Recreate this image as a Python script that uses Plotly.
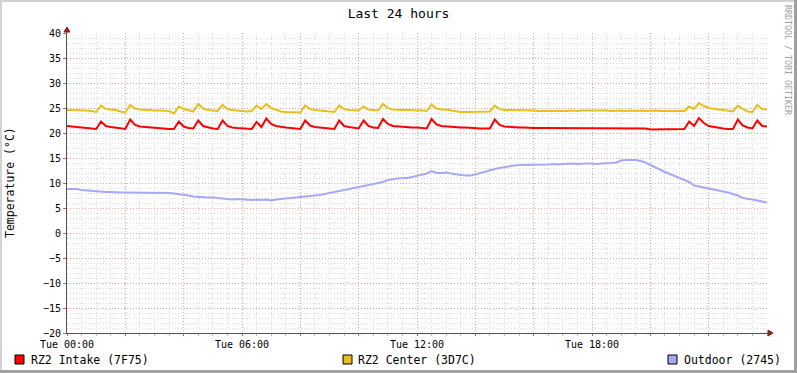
import plotly.graph_objects as go

# ---------------- data (10-minute samples over 24 hours) ----------------
STEP_MIN = 10

intake = [
    21.4, 21.3, 21.3, 21.1, 21.0, 20.9, 20.8, 22.3, 21.4, 21.2,
    21.1, 20.9, 20.8, 22.7, 21.6, 21.3, 21.2, 21.1, 21.1, 21.0,
    20.9, 20.8, 20.8, 22.3, 21.3, 21.0, 20.9, 22.5, 21.4, 21.1,
    20.9, 20.8, 22.5, 21.4, 21.1, 21.0, 20.9, 20.9, 20.8, 22.2,
    21.2, 22.9, 21.8, 21.4, 21.2, 21.1, 21.0, 20.9, 20.8, 22.5,
    21.5, 21.2, 21.1, 21.0, 20.9, 20.8, 22.5, 21.4, 21.2, 21.0,
    20.9, 22.5, 21.4, 21.1, 21.0, 22.8, 21.8, 21.4, 21.3, 21.2,
    21.2, 21.1, 21.1, 21.0, 20.9, 22.8, 21.7, 21.4, 21.3, 21.2,
    21.2, 21.1, 21.1, 21.0, 21.0, 20.9, 20.9, 20.9, 22.7, 21.6,
    21.3, 21.2, 21.1, 21.1, 21.1, 21.0, 21.0, 21.0, 21.0, 21.0,
    21.0, 21.0, 21.0, 21.0, 21.0, 21.0, 21.0, 20.9, 20.9, 20.9,
    20.9, 20.9, 20.9, 20.9, 21.0, 20.9, 20.9, 20.9, 20.9, 20.9,
    20.7, 20.7, 20.7, 20.7, 20.7, 20.7, 20.7, 20.8, 22.3, 21.4,
    23.0, 22.0, 21.4, 21.2, 21.1, 20.9, 20.8, 20.8, 22.7, 21.5,
    21.1, 20.9, 22.5, 21.4, 21.3,
]

center = [
    24.6, 24.6, 24.6, 24.5, 24.5, 24.4, 24.2, 25.5, 24.8, 24.7,
    24.6, 24.3, 24.1, 25.6, 24.9, 24.7, 24.6, 24.6, 24.5, 24.5,
    24.4, 24.4, 23.9, 25.3, 24.8, 24.5, 24.3, 25.8, 24.9, 24.6,
    24.5, 24.4, 25.6, 24.8, 24.6, 24.5, 24.4, 24.3, 24.4, 25.5,
    24.8, 25.8, 25.0, 24.6, 24.3, 24.2, 24.2, 24.2, 24.1, 25.5,
    24.8, 24.6, 24.5, 24.3, 24.2, 24.2, 25.5, 24.8, 24.6, 24.5,
    24.5, 25.3, 24.7, 24.6, 24.5, 25.8, 25.0, 24.7, 24.6, 24.6,
    24.6, 24.5, 24.5, 24.5, 24.4, 25.7, 24.9, 24.7, 24.7, 24.5,
    24.3, 24.2, 24.2, 24.2, 24.3, 24.2, 24.2, 24.3, 25.5, 24.8,
    24.6, 24.6, 24.6, 24.6, 24.6, 24.5, 24.5, 24.4, 24.4, 24.4,
    24.4, 24.3, 24.4, 24.4, 24.5, 24.4, 24.5, 24.5, 24.5, 24.6,
    24.5, 24.5, 24.4, 24.5, 24.5, 24.4, 24.5, 24.4, 24.5, 24.4,
    24.5, 24.5, 24.4, 24.4, 24.5, 24.4, 24.4, 24.4, 25.3, 24.8,
    26.0, 25.4, 25.0, 24.8, 24.7, 24.6, 24.4, 24.3, 25.5, 24.8,
    24.3, 24.2, 25.6, 24.8, 24.7,
]

outdoor = [
    8.8, 8.8, 8.8, 8.6, 8.5, 8.4, 8.3, 8.3, 8.2, 8.2,
    8.1, 8.1, 8.1, 8.1, 8.0, 8.1, 8.0, 8.0, 8.1, 8.0,
    8.0, 8.0, 7.9, 7.8, 7.6, 7.5, 7.3, 7.2, 7.1, 7.1,
    7.1, 7.0, 6.8, 6.8, 6.7, 6.8, 6.7, 6.7, 6.6, 6.7,
    6.6, 6.7, 6.5, 6.7, 6.8, 6.8, 6.9, 7.0, 7.1, 7.2,
    7.3, 7.4, 7.6, 7.8, 8.0, 8.1, 8.3, 8.6, 8.8, 9.0,
    9.2, 9.3, 9.5, 9.7, 9.9, 10.2, 10.6, 10.8, 10.9, 11.0,
    11.0, 11.2, 11.4, 11.6, 11.9, 12.4, 12.0, 12.0, 12.1, 11.9,
    11.7, 11.6, 11.5, 11.5, 11.7, 12.0, 12.3, 12.6, 12.8, 13.0,
    13.2, 13.3, 13.5, 13.6, 13.6, 13.7, 13.7, 13.6, 13.7, 13.7,
    13.8, 13.7, 13.8, 13.9, 13.9, 13.8, 13.9, 13.9, 13.9, 13.8,
    13.9, 13.9, 14.0, 14.1, 14.5, 14.6, 14.6, 14.6, 14.4, 14.1,
    13.6, 13.1, 12.7, 12.2, 11.8, 11.4, 11.0, 10.6, 10.2, 9.5,
    9.3, 9.1, 8.9, 8.8, 8.5, 8.3, 8.1, 7.8, 7.5, 7.0,
    6.9, 6.7, 6.5, 6.3, 6.1,
]

series_names = ["RZ2 Intake (7F75)", "RZ2 Center (3D7C)", "Outdoor (2745)"]
series_colors = ["#FF0000", "#E8BE1E", "#A8A8F6"]

x_tick_vals = [0, 2, 4, 6, 8, 10, 12, 14, 16, 18, 20, 22]
x_tick_text = ["Tue 00:00", "", "", "Tue 06:00", "", "", "Tue 12:00", "", "", "Tue 18:00", "", ""]
y_tick_vals = [-20, -15, -10, -5, 0, 5, 10, 15, 20, 25, 30, 35, 40]

title_text = "Last 24 hours"
y_title = "Temperature (°C)"
credit_text = "RRDTOOL / TOBI OETIKER"

# ---------------- figure ----------------
hours = [i * STEP_MIN / 60 for i in range(len(intake))]
FONT = "DejaVu Sans Mono"

fig = go.Figure()
for name, vals, col in zip(series_names, [intake, center, outdoor], series_colors):
    fig.add_trace(go.Scatter(x=hours, y=vals, mode="lines", name=name,
                             line=dict(color=col, width=2), showlegend=False,
                             hoverinfo="skip"))

W, H = 797, 373
L, R, T, B = 67, 30, 33, 40
PW, PH = W - L - R, H - T - B


def px(p):
    return (p - L) / PW


def py(q):
    return (H - B - q) / PH


MAJ = "rgba(228,140,140,0.7)"
MIN = "#DCDCDC"
DOTS = "1px,2px"

fig.update_layout(
    width=W, height=H,
    margin=dict(l=L, r=R, t=T, b=B, autoexpand=False),
    paper_bgcolor="#FFFFFF", plot_bgcolor="#FFFFFF",
    font=dict(family=FONT, size=10, color="#000000"),
    title=dict(text=title_text, x=0.5, xanchor="center", y=1 - 13 / H, yanchor="middle",
               font=dict(family=FONT, size=13, color="#000000")),
    xaxis=dict(range=[0, 24], tickmode="array", tickvals=x_tick_vals, ticktext=x_tick_text,
               showgrid=True, gridcolor=MAJ, griddash=DOTS, gridwidth=1,
               minor=dict(dtick=0.5, showgrid=True, gridcolor=MIN, griddash=DOTS, gridwidth=1,
                          ticks="outside", ticklen=2, tickcolor="#BBBBBB"),
               ticks="outside", ticklen=2, tickcolor="#D06060",
               showline=True, linecolor="#505050", linewidth=1, zeroline=False,
               tickfont=dict(family=FONT, size=10, color="#000000"), fixedrange=True),
    yaxis=dict(range=[-20, 40], tickmode="array", tickvals=y_tick_vals,
               showgrid=True, gridcolor=MAJ, griddash=DOTS, gridwidth=1,
               minor=dict(dtick=1, showgrid=True, gridcolor=MIN, griddash=DOTS, gridwidth=1),
               ticks="outside", ticklen=3, tickcolor="#D06060",
               showline=True, linecolor="#505050", linewidth=1, zeroline=False,
               tickfont=dict(family=FONT, size=10, color="#000000"), fixedrange=True),
    showlegend=False,
)

shapes = []
# axis extensions and arrows
ARROW = "#8B2020"
shapes.append(dict(type="line", xref="paper", yref="paper", x0=1, x1=px(770), y0=0, y1=0,
                   line=dict(color="#505050", width=1)))
shapes.append(dict(type="path", xref="paper", yref="paper",
                   path=f"M {px(768)} {py(330)} L {px(773)} {py(333)} L {px(768)} {py(336)} Z",
                   fillcolor=ARROW, line=dict(color=ARROW, width=1)))
shapes.append(dict(type="line", xref="paper", yref="paper", x0=0, x1=0, y0=1, y1=py(30),
                   line=dict(color="#505050", width=1)))
shapes.append(dict(type="path", xref="paper", yref="paper",
                   path=f"M {px(64)} {py(32)} L {px(67)} {py(27)} L {px(70)} {py(32)} Z",
                   fillcolor=ARROW, line=dict(color=ARROW, width=1)))
# image border
shapes.append(dict(type="line", xref="paper", yref="paper", x0=px(0), x1=px(W), y0=py(1), y1=py(1),
                   line=dict(color="#D2D2D2", width=2)))
shapes.append(dict(type="line", xref="paper", yref="paper", x0=px(1), x1=px(1), y0=py(0), y1=py(H),
                   line=dict(color="#D2D2D2", width=2)))
shapes.append(dict(type="line", xref="paper", yref="paper", x0=px(795.5), x1=px(795.5), y0=py(0), y1=py(H),
                   line=dict(color="#A0A0A0", width=3)))
shapes.append(dict(type="line", xref="paper", yref="paper", x0=px(0), x1=px(W), y0=py(371.5), y1=py(371.5),
                   line=dict(color="#A0A0A0", width=3)))

annotations = []
# legend boxes and labels
legend_box_x = [15, 343, 668]
legend_text_x = [29, 356, 682]
for bx, tx, name, col in zip(legend_box_x, legend_text_x, series_names, series_colors):
    shapes.append(dict(type="rect", xref="paper", yref="paper",
                       x0=px(bx), x1=px(bx + 9), y0=py(355), y1=py(364),
                       fillcolor=col, line=dict(color="#000000", width=1)))
    annotations.append(dict(text=name, xref="paper", yref="paper", x=px(tx), y=py(359.5),
                            xanchor="left", yanchor="middle", showarrow=False,
                            font=dict(family=FONT, size=11.5, color="#000000")))

annotations.append(dict(text=y_title, xref="paper", yref="paper", x=px(10), y=py(183),
                        xanchor="center", yanchor="middle", textangle=-90, showarrow=False,
                        font=dict(family=FONT, size=11.5, color="#000000")))
annotations.append(dict(text=credit_text, xref="paper", yref="paper", x=px(788), y=py(60),
                        xanchor="center", yanchor="middle", textangle=90, showarrow=False,
                        font=dict(family=FONT, size=8.3, color="#A0A0A0")))

fig.update_layout(shapes=shapes, annotations=annotations)
fig.write_html("out.html", config={"displayModeBar": False, "staticPlot": True},
               post_script="document.body.style.margin='0px';document.body.style.padding='0px';")
